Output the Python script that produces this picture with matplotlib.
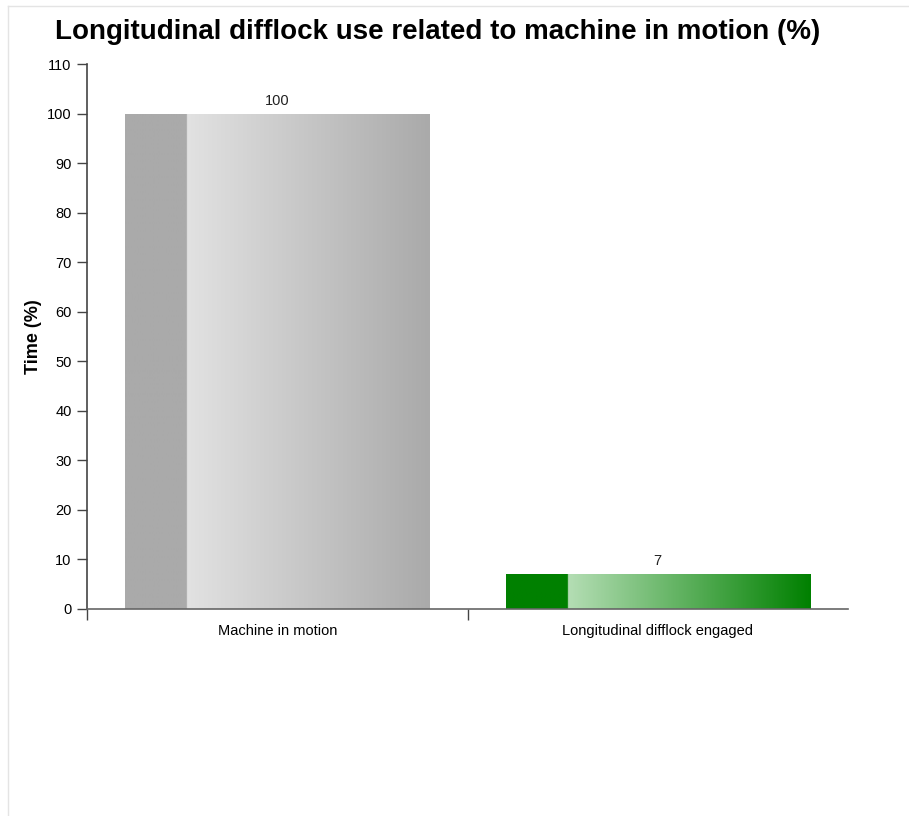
import numpy as np
import matplotlib
matplotlib.use('Agg')
import matplotlib.pyplot as plt
from matplotlib.colors import LinearSegmentedColormap
from matplotlib.lines import Line2D

plt.rcParams['font.family'] = ['Liberation Sans', 'DejaVu Sans']

categories = ['Machine in motion', 'Longitudinal difflock engaged']
values = [100, 7]
dark_colours = ['#aaaaaa', '#008000']
light_colours = ['#e2e2e2', '#b5deb5']
y_ticks = list(range(0, 111, 10))

W, H = 909, 816
fig = plt.figure(figsize=(W / 100, H / 100), dpi=100)
fig.patch.set_facecolor('white')

# faint card border at top/left
fig.add_artist(Line2D([8 / W, 1], [1 - 6 / H, 1 - 6 / H], color='#e4e4e4', lw=1))
fig.add_artist(Line2D([8 / W, 8 / W], [0, 1 - 6 / H], color='#e4e4e4', lw=1))

ax = fig.add_axes([87 / W, 1 - 609 / H, (848 - 87) / W, (609 - 64) / H])
x = np.arange(len(categories))
bars = ax.bar(x, values, width=0.8, color='none', edgecolor='none', zorder=2)

for bar, dark, light in zip(bars, dark_colours, light_colours):
    x0, w, h = bar.get_x(), bar.get_width(), bar.get_height()
    cmap = LinearSegmentedColormap.from_list(
        'g', [(0, dark), (0.2, dark), (0.2001, light), (1, dark)])
    grad = np.linspace(0, 1, 512).reshape(1, -1)
    im = ax.imshow(grad, cmap=cmap, aspect='auto', extent=(x0, x0 + w, 0, h),
                   interpolation='bilinear', zorder=2)
    im.set_clip_path(bar)
    ax.text(x0 + w / 2, h + 1.2, f'{h:g}', ha='center', va='bottom',
            fontsize=10.5, color='#222222')

ax.set_xlim(-0.5, len(categories) - 0.5)
ax.set_ylim(0, 110)
ax.set_yticks(y_ticks)
ax.tick_params(axis='y', length=7, width=1, labelsize=10.5, pad=4, color='#444444')
ax.set_xticks(x)
ax.set_xticklabels(categories, fontsize=10.5)
ax.tick_params(axis='x', length=0, pad=10.5)
ax.set_xticks(np.arange(len(categories)) - 0.5, minor=True)
ax.tick_params(axis='x', which='minor', length=8, width=1, color='#444444')

for s in ['top', 'right']:
    ax.spines[s].set_visible(False)
ax.spines['left'].set_color('#444444')
ax.spines['bottom'].set_color('#666666')
ax.spines['left'].set_linewidth(1.2)
ax.spines['bottom'].set_linewidth(1.2)

ax.set_ylabel('Time (%)', fontsize=13, fontweight='bold', labelpad=4)
fig.text(55 / W, 1 - 32 / H, 'Longitudinal difflock use related to machine in motion (%)',
         fontsize=20, fontweight='bold', ha='left', va='center')

fig.savefig('out.png', dpi=100)
